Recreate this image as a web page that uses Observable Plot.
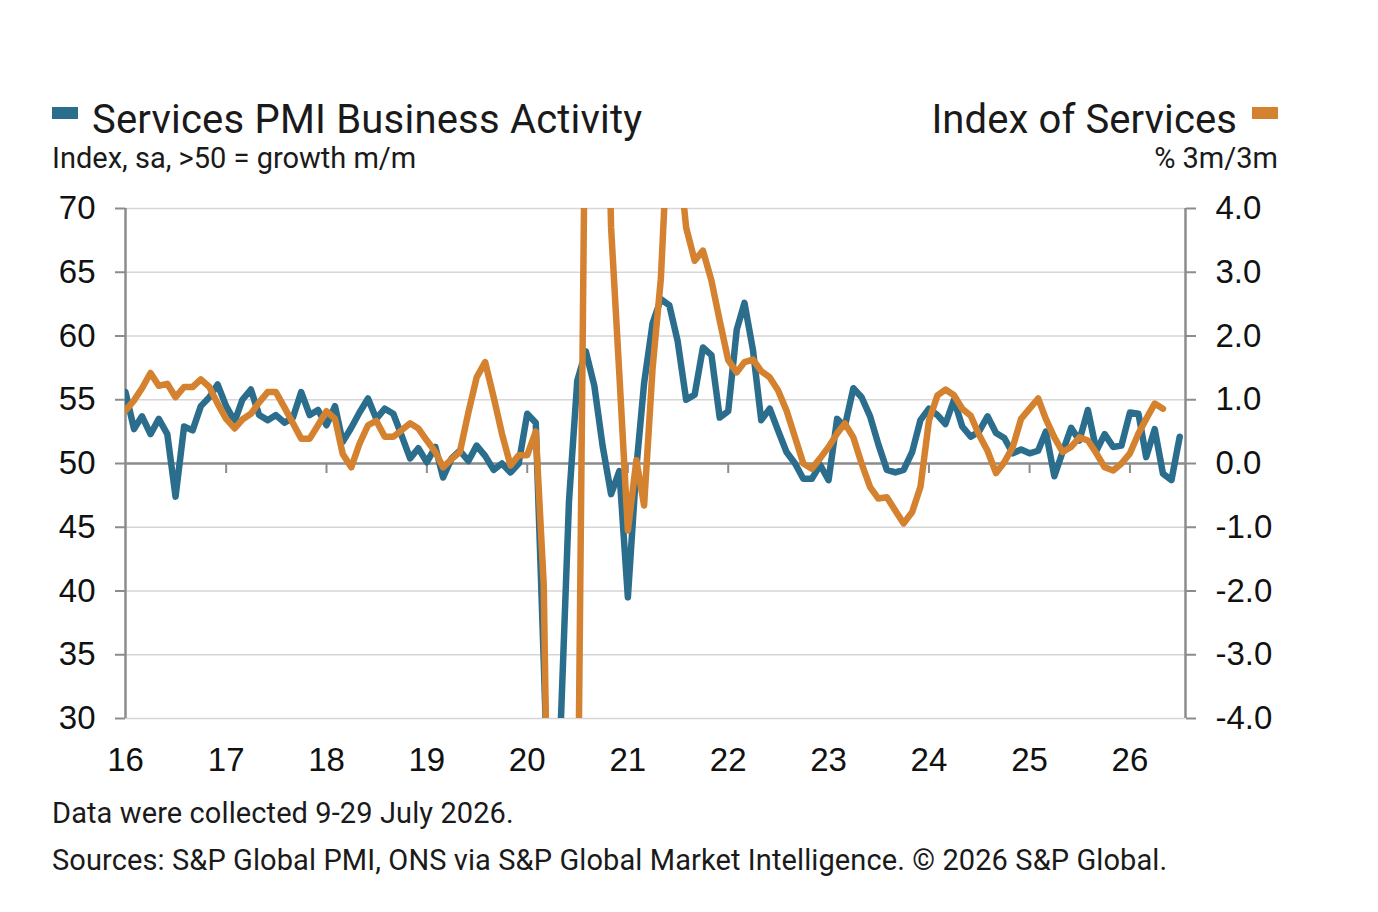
<!DOCTYPE html>
<html><head><meta charset="utf-8">
<script src="https://cdn.jsdelivr.net/npm/d3@7"></script>
<script src="https://cdn.jsdelivr.net/npm/@observablehq/plot@0.6"></script>
<style>
body{margin:0;background:#fff;width:1378px;height:912px;position:relative;overflow:hidden;font-family:Roboto,sans-serif;color:#1a1a1a}
.t{position:absolute;white-space:nowrap;line-height:1}
#chart{position:absolute;left:0;top:0}
.sw{position:absolute;width:26px;height:12px}
</style></head><body>
<div id="chart"></div>
<div class="sw" style="left:52px;top:107px;background:#2b6d8d"></div>
<div class="t" style="left:92px;top:100px;font-size:40px;letter-spacing:0.2px">Services PMI Business Activity</div>
<div class="t" style="left:52px;top:144px;font-size:29px">Index, sa, &gt;50 = growth m/m</div>
<div class="t" style="right:141px;top:100px;font-size:40px;letter-spacing:0.1px">Index of Services</div>
<div class="sw" style="left:1252px;top:107px;background:#d4822f"></div>
<div class="t" style="right:100px;top:144px;font-size:29px">% 3m/3m</div>
<div class="t" style="left:52px;top:799px;font-size:29px;letter-spacing:0.1px">Data were collected 9-29 July 2026.</div>
<div class="t" style="left:52px;top:846px;font-size:29px;letter-spacing:0.1px">Sources: S&amp;P Global PMI, ONS via S&amp;P Global Market Intelligence. © 2026 S&amp;P Global.</div>
<script>
// Services PMI Business Activity index, Jan 2016 – Jul 2026
const pmi = [
  55.6, 52.7, 53.7, 52.3, 53.5, 52.3, 47.4, 52.9, 52.6, 54.5, 55.2, 56.2,
  54.5, 53.3, 55.0, 55.8, 53.8, 53.4, 53.8, 53.2, 53.6, 55.6, 53.8, 54.2,
  53.0, 54.5, 51.7, 52.8, 54.0, 55.1, 53.5, 54.3, 53.9, 52.2, 50.4, 51.2,
  50.1, 51.3, 48.9, 50.4, 51.0, 50.2, 51.4, 50.6, 49.5, 50.0, 49.3, 50.0,
  53.9, 53.2, 34.5, 13.4, 29.0, 47.1, 56.5, 58.8, 56.1, 51.4, 47.6, 49.4,
  39.5, 49.7, 56.3, 61.0, 62.9, 62.4, 59.6, 55.0, 55.4, 59.1, 58.5, 53.6,
  54.1, 60.5, 62.6, 58.9, 53.4, 54.3, 52.6, 50.9, 50.0, 48.8, 48.8, 49.9,
  48.7, 53.5, 52.9, 55.9, 55.2, 53.7, 51.5, 49.5, 49.3, 49.5, 50.9, 53.4,
  54.3, 53.8, 53.1, 55.0, 52.9, 52.1, 52.5, 53.7, 52.4, 52.0, 50.8, 51.1,
  50.8, 51.0, 52.5, 49.0, 50.9, 52.8, 51.8, 54.2, 51.0, 52.3, 51.3, 51.4,
  54.0, 53.9, 50.5, 52.7, 49.2, 48.7, 52.1
];
// Index of Services, % 3m/3m, Jan 2016 – May 2026
const ios = [
  0.83, 0.99, 1.18, 1.42, 1.22, 1.25, 1.04, 1.20, 1.20, 1.32, 1.20, 0.94,
  0.70, 0.55, 0.69, 0.78, 0.96, 1.12, 1.12, 0.88, 0.63, 0.39, 0.39, 0.60,
  0.82, 0.70, 0.15, -0.06, 0.31, 0.60, 0.67, 0.42, 0.42, 0.52, 0.63, 0.55,
  0.36, 0.18, -0.06, 0.07, 0.18, 0.80, 1.35, 1.59, 1.04, 0.47, -0.03, 0.13,
  0.13, 0.50, -1.90, -10.5, -19.6, -18.5, -6.7, 6.9, 14.3, 9.7, 3.7, 1.4,
  -1.05, 0.05, -0.66, 1.50, 2.90, 5.70, 5.00, 3.70, 3.18, 3.34, 2.87, 2.24,
  1.62, 1.43, 1.59, 1.63, 1.45, 1.35, 1.15, 0.83, 0.41, 0.00, -0.08, 0.08,
  0.26, 0.47, 0.63, 0.41, 0.00, -0.37, -0.55, -0.53, -0.74, -0.94, -0.76, -0.37,
  0.67, 1.07, 1.16, 1.07, 0.86, 0.75, 0.45, 0.20, -0.15, 0.02, 0.26, 0.70,
  0.86, 1.02, 0.70, 0.41, 0.18, 0.26, 0.41, 0.36, 0.16, -0.06, -0.11, 0.00,
  0.16, 0.47, 0.70, 0.94, 0.86
];
const leftTicks = [30, 35, 40, 45, 50, 55, 60, 65, 70];
const startDate = new Date(Date.UTC(2016, 0, 1));
const endDate = new Date(Date.UTC(2026, 6, 22));
const years = d3.utcYear.range(startDate, new Date(Date.UTC(2027, 0, 1)));
const months = d3.utcMonth.range(startDate, new Date(Date.UTC(2026, 7, 1)));

const pmiRows = pmi.map((v, i) => ({date: months[i], v}));
const iosRows = ios.map((v, i) => ({date: months[i], v}));
// right axis: -4..4 mapped onto 30..70
const toLeft = (v) => 50 + v * 5;

const axisGray = "#8c8c8c";
const chart = Plot.plot({
  width: 1378, height: 912,
  marginLeft: 125, marginRight: 193, marginTop: 208, marginBottom: 194,
  style: {background: "transparent", fontFamily: "'Liberation Sans', Arial, sans-serif", color: "#1a1a1a"},
  x: {type: "utc", domain: [startDate, endDate]},
  y: {domain: [30, 70]},
  marks: [
    Plot.gridY(leftTicks, {stroke: "#d6d6d6", strokeOpacity: 1, strokeWidth: 1.5}),
    Plot.ruleY([50], {stroke: axisGray, strokeWidth: 2.5}),
    Plot.ruleX(years.slice(1), {x: (d) => d, y1: 50, y2: 50, insetBottom: -10, stroke: axisGray, strokeWidth: 2}),
    Plot.ruleX([startDate], {stroke: axisGray, strokeWidth: 2.5}),
    Plot.ruleX([endDate], {stroke: axisGray, strokeWidth: 2.5}),
    Plot.axisY({anchor: "left", ticks: leftTicks, tickSize: 10, tickPadding: 20, stroke: axisGray, strokeWidth: 2, color: "#111", fontSize: 33, label: null}),
    Plot.axisY({anchor: "right", ticks: leftTicks, tickFormat: (d) => ((d - 50) / 5).toFixed(1), tickSize: 10, tickPadding: 20, stroke: axisGray, strokeWidth: 2, color: "#111", fontSize: 33, label: null}),
    Plot.axisX({anchor: "bottom", ticks: years, tickFormat: d3.utcFormat("%y"), tickSize: 0, tickPadding: 29, color: "#111", fontSize: 33, label: null}),
    Plot.lineY(pmiRows, {x: "date", y: "v", stroke: "#2b6d8d", strokeWidth: 6.5, strokeLinejoin: "round", clip: true}),
    Plot.lineY(iosRows, {x: "date", y: (d) => toLeft(d.v), stroke: "#d4822f", strokeWidth: 6.5, strokeLinejoin: "round", clip: true})
  ]
});
document.getElementById("chart").appendChild(chart);
</script>
</body></html>
